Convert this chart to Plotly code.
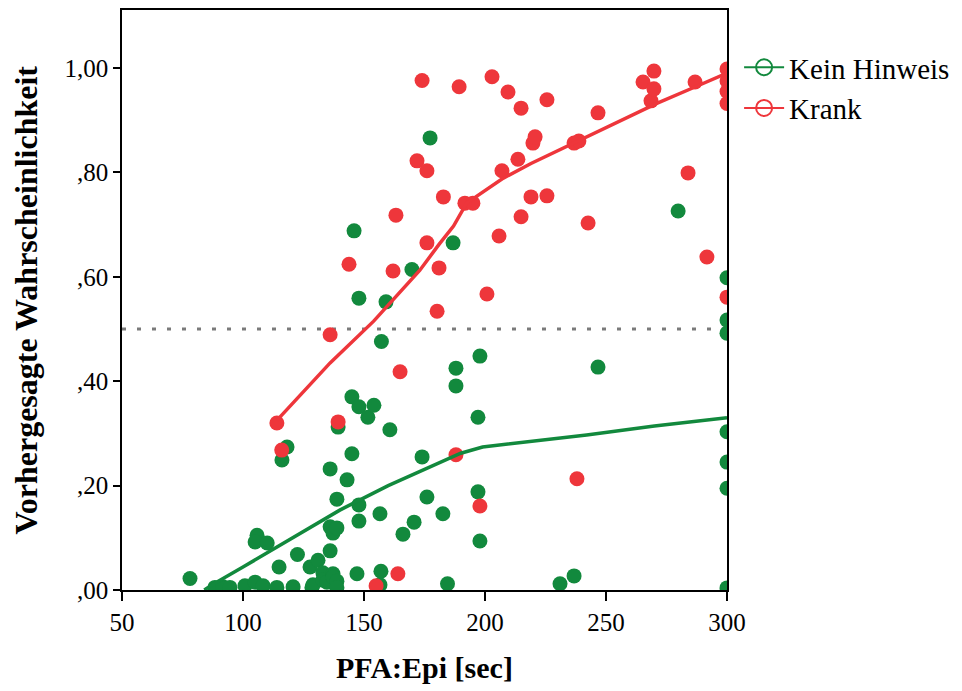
import plotly.graph_objects as go

# Kein Hinweis: PFA:Epi [sec] vs. predicted probability
kein_x = [78.1, 88.4, 91.7, 94.6, 100.8, 105.0, 105.8, 105.0, 110.0, 108.3, 114.0, 114.9,
          116.1, 118.2, 120.7, 122.5, 127.7, 128.5, 128.9, 131.0, 133.0, 133.0, 134.7,
          136.0, 136.0, 136.0, 137.2, 137.2, 137.2, 138.8, 138.8, 138.8, 139.3, 138.8,
          143.0, 145.0, 145.0, 145.9, 147.1, 147.9, 147.9, 147.9, 147.9, 151.6, 154.1,
          156.6, 156.6, 157.0, 157.2, 159.1, 160.7, 166.1, 169.8, 170.7, 174.0, 176.0,
          177.3, 182.6, 184.5, 186.8, 188.0, 188.0, 197.1, 197.1, 197.9, 197.9, 231.0,
          236.8, 246.7, 279.8, 300, 300, 300, 300, 300, 300, 300]
kein_y = [0.022, 0.005, 0.006, 0.005, 0.008, 0.015, 0.105, 0.092, 0.090, 0.008, 0.005, 0.044,
          0.249, 0.274, 0.006, 0.068, 0.044, 0.005, 0.010, 0.057, 0.033, 0.019, 0.015,
          0.075, 0.121, 0.232, 0.031, 0.109, 0.025, 0.017, 0.119, 0.174, 0.312, 0.005,
          0.211, 0.261, 0.370, 0.688, 0.031, 0.351, 0.163, 0.132, 0.559, 0.331, 0.354,
          0.146, 0.010, 0.036, 0.476, 0.552, 0.307, 0.107, 0.614, 0.130, 0.255, 0.178,
          0.866, 0.146, 0.012, 0.665, 0.425, 0.391, 0.331, 0.188, 0.448, 0.094, 0.012,
          0.027, 0.427, 0.726, 0.598, 0.517, 0.492, 0.303, 0.245, 0.195, 0.004]

# Krank
krank_x = [114.0, 116.0, 136.0, 139.3, 143.8, 155.0, 162.0, 163.2, 164.0, 164.9, 171.9, 174.0,
           176.0, 176.0, 180.2, 181.0, 182.8, 188.0, 189.3, 191.7, 195.0, 197.9, 200.8,
           202.9, 205.8, 207.0, 209.5, 213.6, 214.9, 214.9, 219.0, 219.8, 220.7, 225.6,
           225.6, 236.8, 238.0, 238.8, 242.6, 246.7, 265.3, 268.6, 269.8, 269.8, 283.9,
           286.8, 291.7, 300, 300, 300, 300, 300]
krank_y = [0.320, 0.268, 0.489, 0.322, 0.624, 0.008, 0.611, 0.718, 0.031, 0.418, 0.822, 0.976,
           0.803, 0.665, 0.534, 0.617, 0.753, 0.259, 0.964, 0.741, 0.741, 0.161, 0.567,
           0.983, 0.678, 0.803, 0.954, 0.825, 0.923, 0.715, 0.753, 0.856, 0.868, 0.939,
           0.755, 0.856, 0.213, 0.860, 0.703, 0.914, 0.973, 0.937, 0.994, 0.960, 0.799,
           0.973, 0.638, 0.998, 0.975, 0.955, 0.932, 0.561]

# Fit lines
kein_fit_x = [84, 88, 100, 120, 140, 160, 180, 190, 199, 215, 242, 270, 300]
kein_fit_y = [0.0, 0.012, 0.044, 0.098, 0.153, 0.200, 0.241, 0.262, 0.274, 0.282, 0.297, 0.314, 0.330]
krank_fit_x = [114, 136, 154, 173, 181, 187, 192.4, 198, 207.6, 219, 238, 254, 271, 287, 300]
krank_fit_y = [0.325, 0.435, 0.515, 0.612, 0.662, 0.697, 0.741, 0.758, 0.789, 0.817, 0.859, 0.894, 0.932, 0.964, 0.990]

x_ticks = [50, 100, 150, 200, 250, 300]
y_ticks = [0.0, 0.2, 0.4, 0.6, 0.8, 1.0]
y_tick_labels = [",00", ",20", ",40", ",60", ",80", "1,00"]
cutoff = 0.5

GREEN = "#12893d"
RED = "#ee363b"
SERIF = "Liberation Serif, Times New Roman, serif"

fig = go.Figure()

fig.add_trace(go.Scatter(x=[50, 300], y=[cutoff, cutoff], mode="lines",
                         line=dict(color="#7a7a7a", width=3, dash="4px,11px"),
                         showlegend=False, hoverinfo="skip"))

fig.add_trace(go.Scatter(x=kein_x, y=kein_y, mode="markers",
                         marker=dict(color=GREEN, size=15, line=dict(width=0)),
                         showlegend=False))
fig.add_trace(go.Scatter(x=krank_x, y=krank_y, mode="markers",
                         marker=dict(color=RED, size=15, line=dict(width=0)),
                         showlegend=False))

fig.add_trace(go.Scatter(x=kein_fit_x, y=kein_fit_y, mode="lines",
                         line=dict(color=GREEN, width=3.5), showlegend=False))
fig.add_trace(go.Scatter(x=krank_fit_x, y=krank_fit_y, mode="lines",
                         line=dict(color=RED, width=3.5), showlegend=False))

# Legend entries: open circle crossed by the fit line
for name, col in [("Kein Hinweis", GREEN), ("Krank", RED)]:
    fig.add_trace(go.Scatter(x=[None], y=[None], mode="lines+markers", name=name,
                             line=dict(color=col, width=2),
                             marker=dict(symbol="circle-open", color=col, size=16,
                                         line=dict(width=2))))

fig.update_xaxes(range=[50, 300], tickvals=x_ticks, ticks="outside", ticklen=9,
                 tickwidth=1.5, tickcolor="black", showline=True, linecolor="black",
                 linewidth=1.5, mirror=True, showgrid=False, zeroline=False,
                 tickfont=dict(family=SERIF, size=25, color="black"))
fig.update_yaxes(range=[0, 1.111], tickvals=y_ticks, ticktext=y_tick_labels,
                 ticks="outside", ticklen=7, tickwidth=1.5, tickcolor="black",
                 showline=True, linecolor="black", linewidth=1.5, mirror=True,
                 showgrid=False, zeroline=False,
                 tickfont=dict(family=SERIF, size=25, color="black"))

fig.update_layout(
    width=962, height=691,
    margin=dict(l=122, r=235, t=10, b=101, autoexpand=False),
    plot_bgcolor="white", paper_bgcolor="white",
    showlegend=True,
    legend=dict(x=1.02, y=0.945, xanchor="left", yanchor="top",
                font=dict(family=SERIF, size=29, color="black"),
                bgcolor="rgba(0,0,0,0)", itemwidth=40, tracegroupgap=0),
    annotations=[
        dict(text="<b>Vorhergesagte Wahrscheinlichkeit</b>", textangle=-90,
             xref="paper", yref="paper", x=-0.158, y=0.5, xanchor="center",
             yanchor="middle", showarrow=False,
             font=dict(family=SERIF, size=32, color="black")),
        dict(text="<b>PFA:Epi [sec]</b>", xref="paper", yref="paper",
             x=0.5, y=-0.134, xanchor="center", yanchor="middle", showarrow=False,
             font=dict(family=SERIF, size=30, color="black")),
    ],
)

fig.write_html("out.html")
